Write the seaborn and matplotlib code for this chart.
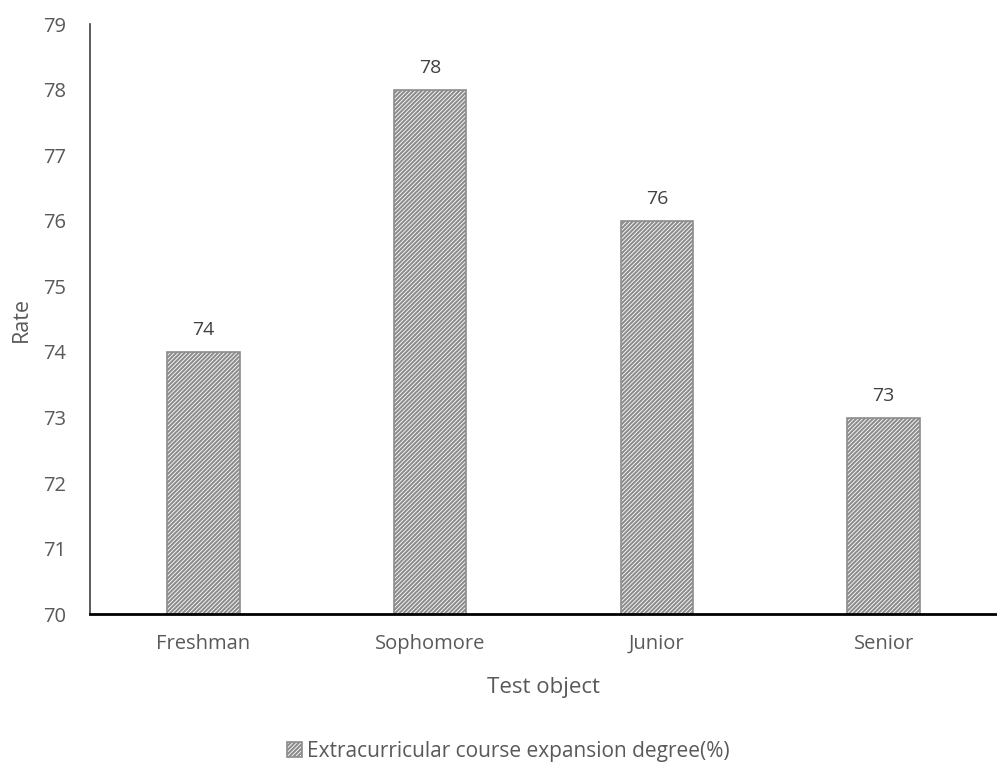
import matplotlib
matplotlib.use("Agg")
import matplotlib.pyplot as plt
import seaborn as sns
import pandas as pd

categories = ["Freshman", "Sophomore", "Junior", "Senior"]
values = [74, 78, 76, 73]
series_name = "Extracurricular course expansion degree(%)"
y_ticks = [70, 71, 72, 73, 74, 75, 76, 77, 78, 79]

sns.set_style("white")
plt.rcParams["font.family"] = ["Open Sans", "DejaVu Sans"]
plt.rcParams["hatch.linewidth"] = 1.5
plt.rcParams["hatch.color"] = "#404040"

text_grey = "#595959"
df = pd.DataFrame({"Test object": categories, "Rate": values})

fig = plt.figure(figsize=(9.97, 7.65), dpi=100)
ax = fig.add_axes([0.0903, 0.197, 0.9097, 0.7716])

sns.barplot(data=df, x="Test object", y="Rate", ax=ax, width=0.32,
            color="white", edgecolor="#8c8c8c", linewidth=1.2,
            label=series_name)
for p in ax.patches:
    p.set_hatch("////////")

ax.set_ylim(70, 79)
ax.set_yticks(y_ticks)
ax.set_xlim(-0.5, len(categories) - 0.5)

for i, v in enumerate(values):
    ax.annotate(f"{v}", (i, v), xytext=(0, 9), textcoords="offset points",
                ha="center", va="bottom", fontsize=14, color="#404040")

# spines and ticks
for s in ["top", "right"]:
    ax.spines[s].set_visible(False)
ax.spines["left"].set_color("#404040")
ax.spines["left"].set_linewidth(1.2)
ax.spines["bottom"].set_color("black")
ax.spines["bottom"].set_linewidth(2.0)

ax.tick_params(axis="y", direction="in", length=6, width=1.2, color="#404040",
               labelsize=14.5, labelcolor=text_grey, pad=17)
ax.tick_params(axis="x", which="major", length=0, labelsize=14.5,
               labelcolor=text_grey, pad=14)
ax.set_xticks([0.5, 1.5, 2.5], minor=True)
ax.tick_params(axis="x", which="minor", direction="in", length=7, width=1.6,
               color="black")

ax.set_xlabel("Test object", fontsize=16, color=text_grey, labelpad=17)
ax.set_ylabel("Rate", fontsize=15.5, color=text_grey, labelpad=8)

leg = ax.legend(loc="center", bbox_to_anchor=(0.461, -0.232), frameon=False,
                fontsize=15, handlelength=0.7, handleheight=0.7,
                handletextpad=0.25, labelcolor=text_grey, borderpad=0)

fig.savefig("out.png", dpi=100)
